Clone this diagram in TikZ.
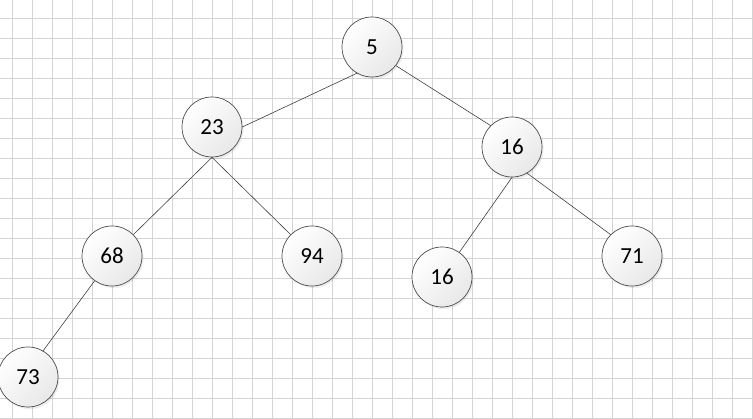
\documentclass[tikz,border=0pt]{standalone}
\usepackage{fontspec}
\setmainfont{Carlito}
\usetikzlibrary{shadows}
\begin{document}
\begin{tikzpicture}[x=1pt,y=-1pt,line join=round,line cap=round,
	gridline/.style={draw=black!17,line width=0.8pt},
	heapnode/.style={circle,draw=black!70,line width=0.7pt,minimum size=60pt,inner sep=0pt,
		top color=white,bottom color=black!9,shading angle=45,
		drop shadow={opacity=0.15,shadow xshift=1.5pt,shadow yshift=-2pt},
		font=\fontsize{23}{27}\selectfont},
	branch/.style={draw=black!75,line width=0.6pt}]
	\fill[white] (0,0) rectangle (753,419);
	\useasboundingbox (0,0) rectangle (753,419);
	\foreach \x in {12.3,32.3,...,752.3} \draw[gridline] (\x,0)--(\x,419);
	\foreach \y in {18.3,38.3,...,418.3} \draw[gridline] (0,\y)--(753,\y);
	\foreach \nm/\x/\y/\v in {n5/372/47/5, n23/212/127/23, n16/512/147/16, n68/112/256/68,
		n94/312/256/94, n16b/442/277/16, n71/632/256/71, n73/28/377/73}
		\node[heapnode] (\nm) at (\x,\y) {\v};
	\draw[branch] (n5.-120)--(n23.east);
	\draw[branch] (n5.-38)--(n16.135);
	\draw[branch] (n23.south)--(n68.45);
	\draw[branch] (n23.south)--(n94.135);
	\draw[branch] (n16.south)--(n16b);
	\draw[branch] (n16.-60)--(n71.135);
	\draw[branch] (n68.-125)--(n73.60);
\end{tikzpicture}
\end{document}
